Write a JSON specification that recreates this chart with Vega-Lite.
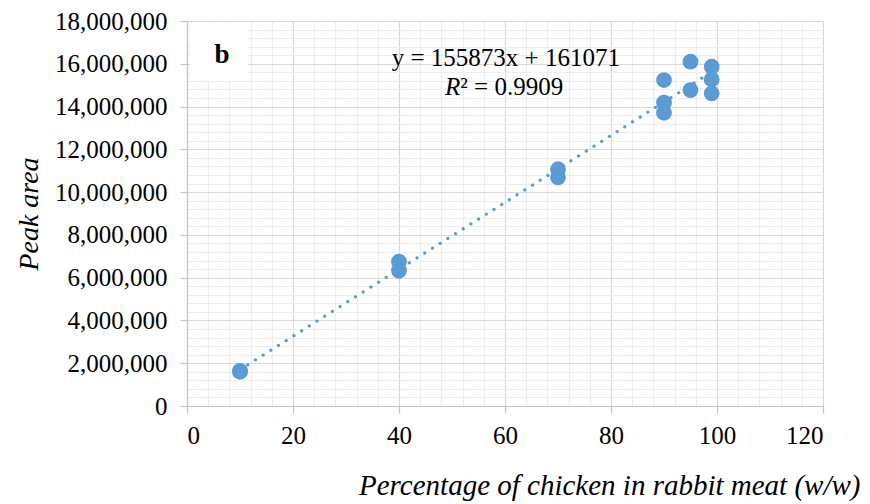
{
  "$schema": "https://vega.github.io/schema/vega-lite/v6.json",
  "width": 636,
  "height": 385,
  "autosize": {"type": "none"},
  "padding": {"left": 187, "top": 21, "right": 47, "bottom": 98},
  "background": "white",
  "config": {"view": {"stroke": null}, "font": "Liberation Serif"},
  "datasets": {
    "pts": [
      {"x": 10, "y": 1600000},
      {"x": 10, "y": 1640000},
      {"x": 40, "y": 6750000},
      {"x": 40, "y": 6330000},
      {"x": 70, "y": 11070000},
      {"x": 70, "y": 10690000},
      {"x": 90, "y": 15240000},
      {"x": 90, "y": 14180000},
      {"x": 90, "y": 13710000},
      {"x": 95, "y": 16100000},
      {"x": 95, "y": 14770000},
      {"x": 99, "y": 15860000},
      {"x": 99, "y": 15270000},
      {"x": 99, "y": 14620000}
    ],
    "box": [{"x": 0.6, "x2": 11.5, "y": 15200000, "y2": 17900000}],
    "blabel": [{"x": 6.6, "y": 16020000, "t": "b"}],
    "eq": [{"x": 60.15, "y": 15896000, "t": "y = 155873x + 161071"}],
    "rlabel": [{"x": 51.57, "y": 14540000, "t": "R"}],
    "rvalue": [{"x": 51.57, "y": 14540000, "t": "² = 0.9909"}]
  },
  "encoding": {
    "x": {
      "field": "x",
      "type": "quantitative",
      "scale": {"domain": [0, 120], "nice": false, "zero": false},
      "axis": {
        "title": "Percentage of chicken in rabbit meat (w/w)",
        "titleFont": "Liberation Serif",
        "titleFontSize": 29,
        "titleFontStyle": "italic",
        "titleFontWeight": "normal",
        "titleColor": "black",
        "titleX": 673,
        "titleY": 88,
        "titleAlign": "right",
        "titleBaseline": "alphabetic",
        "values": [0,4,8,12,16,20,24,28,32,36,40,44,48,52,56,60,64,68,72,76,80,84,88,92,96,100,104,108,112,116,120],
        "labelExpr": "datum.value % 20 === 0 ? datum.label : ''",
        "labelFont": "Liberation Serif",
        "labelFontSize": 25,
        "labelColor": "black",
        "labelPadding": 10,
        "labelOverlap": false,
        "format": "d",
        "grid": true,
        "gridColor": {"condition": {"test": "datum.value % 20 === 0", "value": "#d9d9d9"}, "value": "#ededed"},
        "gridWidth": 1.2,
        "domainColor": "#c4c4c4",
        "domainWidth": 1.2,
        "tickColor": "#c4c4c4",
        "tickSize": 7,
        "tickWidth": 1.2,
        "tickOpacity": {"condition": {"test": "datum.value % 20 === 0", "value": 1}, "value": 0}
      }
    },
    "y": {
      "field": "y",
      "type": "quantitative",
      "scale": {"domain": [0, 18000000], "nice": false, "zero": false},
      "axis": {
        "title": "Peak area",
        "titleFont": "Liberation Serif",
        "titleFontSize": 28,
        "titleFontStyle": "italic",
        "titleFontWeight": "normal",
        "titleColor": "black",
        "titleX": -150,
        "titleY": 192.5,
        "titleAngle": -90,
        "titleAlign": "center",
        "titleBaseline": "alphabetic",
        "values": [0,400000,800000,1200000,1600000,2000000,2400000,2800000,3200000,3600000,4000000,4400000,4800000,5200000,5600000,6000000,6400000,6800000,7200000,7600000,8000000,8400000,8800000,9200000,9600000,10000000,10400000,10800000,11200000,11600000,12000000,12400000,12800000,13200000,13600000,14000000,14400000,14800000,15200000,15600000,16000000,16400000,16800000,17200000,17600000,18000000],
        "labelExpr": "datum.value % 2000000 === 0 ? datum.label : ''",
        "format": ",d",
        "labelFont": "Liberation Serif",
        "labelFontSize": 25,
        "labelColor": "black",
        "labelPadding": 13,
        "labelOverlap": false,
        "grid": true,
        "gridColor": {"condition": {"test": "datum.value % 2000000 === 0", "value": "#d9d9d9"}, "value": "#ededed"},
        "gridWidth": 1.2,
        "domainColor": "#c4c4c4",
        "domainWidth": 1.2,
        "tickColor": "#c4c4c4",
        "tickSize": 7,
        "tickWidth": 1.2,
        "tickOpacity": {"condition": {"test": "datum.value % 2000000 === 0", "value": 1}, "value": 0}
      }
    }
  },
  "layer": [
    {
      "data": {"name": "box"},
      "mark": {"type": "rect", "fill": "white", "stroke": null},
      "encoding": {"x2": {"field": "x2"}, "y2": {"field": "y2"}}
    },
    {
      "data": {"name": "blabel"},
      "mark": {"type": "text", "font": "Liberation Serif", "fontSize": 27, "fontWeight": "bold", "align": "center", "baseline": "alphabetic", "color": "black"},
      "encoding": {"text": {"field": "t"}}
    },
    {
      "data": {"name": "pts"},
      "transform": [{"regression": "y", "on": "x", "extent": [10, 99]}],
      "mark": {"type": "line", "color": "#5b9bd5", "strokeWidth": 3.2, "strokeCap": "round", "strokeDash": [0.1, 9]}
    },
    {
      "data": {"name": "pts"},
      "mark": {"type": "point", "shape": "circle", "filled": true, "size": 250, "color": "#5b9bd5", "opacity": 1}
    },
    {
      "data": {"name": "eq"},
      "mark": {"type": "text", "font": "Liberation Serif", "fontSize": 25, "align": "center", "baseline": "alphabetic", "color": "black"},
      "encoding": {"text": {"field": "t"}}
    },
    {
      "data": {"name": "rlabel"},
      "mark": {"type": "text", "font": "Liberation Serif", "fontSize": 25, "fontStyle": "italic", "align": "right", "baseline": "alphabetic", "color": "black"},
      "encoding": {"text": {"field": "t"}}
    },
    {
      "data": {"name": "rvalue"},
      "mark": {"type": "text", "font": "Liberation Serif", "fontSize": 25, "align": "left", "baseline": "alphabetic", "color": "black"},
      "encoding": {"text": {"field": "t"}}
    }
  ]
}
